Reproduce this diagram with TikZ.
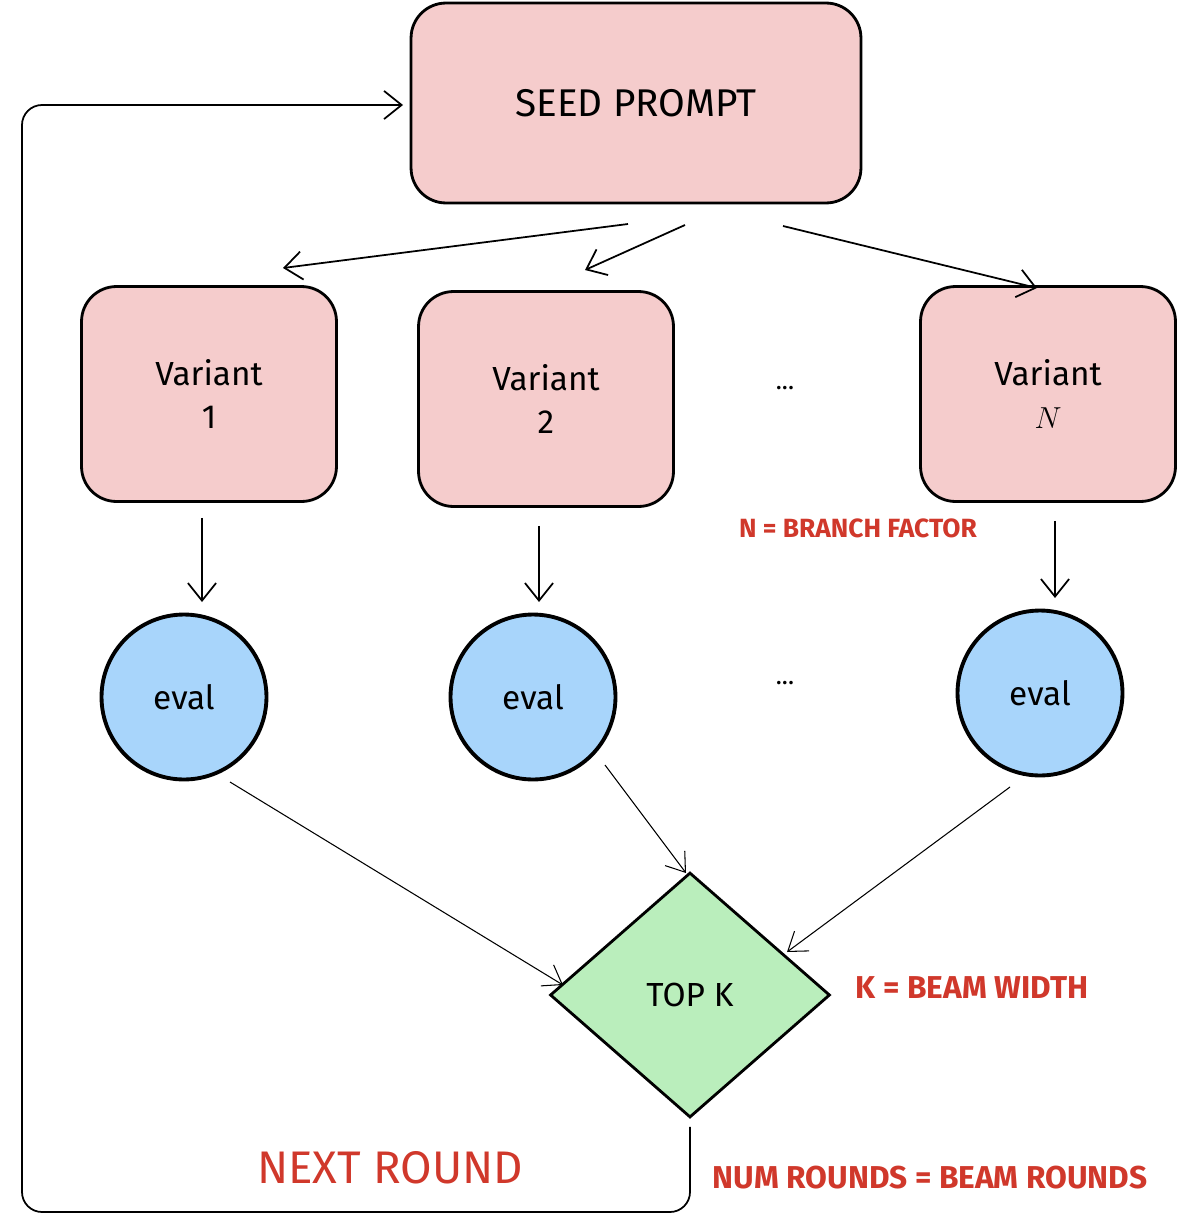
\documentclass[tikz,border=0pt]{standalone}
\usepackage{fontspec}
\setmainfont{Fira Sans}
\usetikzlibrary{shapes.geometric,arrows.meta}
\definecolor{boxpink}{HTML}{F5CCCC}
\definecolor{evalblue}{HTML}{A8D5FB}
\definecolor{topgreen}{HTML}{BAEEBC}
\definecolor{notered}{HTML}{D0382B}
\tikzset{
  box/.style={draw, line width=1.6pt, fill=boxpink, rounded corners=0.7cm, align=center, font=\fontsize{19}{24}\selectfont},
  evalnode/.style={draw, circle, line width=2.2pt, fill=evalblue, minimum size=3.3cm, font=\fontsize{19}{24}\selectfont},
  arr/.style={-{Straight Barb[length=10pt,width=16pt]}, line width=1pt},
  thinarr/.style={-{Straight Barb[length=10pt,width=14pt]}, line width=0.6pt},
  note/.style={text=notered, font=\bfseries, anchor=center}
}
\begin{document}
\begin{tikzpicture}[x=0.02cm, y=-0.02cm]
\useasboundingbox (0,0) rectangle (1200,1227);
% boxes
\node (seed) [box, minimum width=9.0cm, minimum height=4.0cm, font=\fontsize{22}{26}\selectfont] at (636,103) {SEED PROMPT};
\node (v1) [box, minimum width=5.1cm, minimum height=4.3cm] at (209,394) {Variant\\1};
\node (v2) [box, minimum width=5.1cm, minimum height=4.3cm] at (546,399) {Variant\\2};
\node (vn) [box, minimum width=5.1cm, minimum height=4.3cm] at (1048,394) {Variant\\$N$};
\node (dots1) at (785,388) {\Large ...};
\node (dots2) at (785,683) {\Large ...};
% evals
\node (e1) [evalnode] at (184,697) {eval};
\node (e2) [evalnode] at (533,697) {eval};
\node (en) [evalnode] at (1040,693) {eval};
\node (topk) [draw, diamond, line width=1.6pt, fill=topgreen, minimum width=5.6cm, minimum height=4.9cm, font=\fontsize{19}{24}\selectfont] at (690,995) {TOP K};
% notes
\node (nbf) [note, font=\fontsize{15}{18}\bfseries\selectfont] at (858,528) {N = BRANCH FACTOR};
\node (kbw) [note, font=\fontsize{18}{22}\bfseries\selectfont] at (972,988) {K = BEAM WIDTH};
\node (nrr) [note, font=\fontsize{18}{22}\bfseries\selectfont] at (930,1178) {NUM ROUNDS = BEAM ROUNDS};
\node (nxt) [text=notered, font=\fontsize{26}{30}\selectfont] at (390,1168) {NEXT ROUND};
% seed to variants
\coordinate (s1) at (628,224);
\coordinate (s2) at (685,225);
\coordinate (s3) at (783,226);
\coordinate (t1) at (283,268);
\coordinate (t2) at (585,270);
\coordinate (t3) at (1037,288);
\draw[arr] (s1) -- (t1);
\draw[arr] (s2) -- (t2);
\draw[arr] (s3) -- (t3);
% variants to evals
\draw[arr] (v1.south -| 202,0) ++(0,15) -- (202,602);
\draw[arr] (v2.south -| 539,0) ++(0,18) -- (539,602);
\draw[arr] (vn.south -| 1055,0) ++(0,18) -- (1055,598);
% evals to top k
\draw[thinarr] (230,782) -- (563,985);
\draw[thinarr] (605,765) -- (686,873);
\draw[thinarr] (1010,787) -- (787,952);
% loop back
\draw[arr, rounded corners=0.4cm] (topk.south) ++(0,8) -- (690,1212) -- (22,1212) -- (22,105) -- (403,105);
\end{tikzpicture}
\end{document}
